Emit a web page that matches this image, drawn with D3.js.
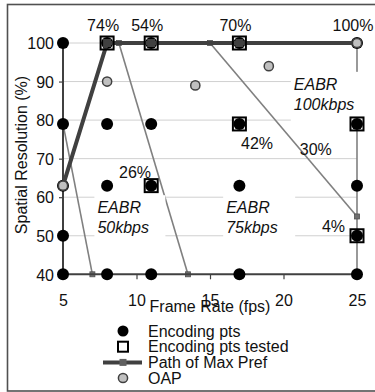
<!DOCTYPE html>
<html><head><meta charset="utf-8">
<script src="https://cdn.jsdelivr.net/npm/d3@7/dist/d3.min.js"></script>
<style>body{margin:0;background:#fff}svg{display:block;font-family:"Liberation Sans",Arial,sans-serif}</style>
</head><body><svg id="c" width="375" height="392"></svg>
<script>
// ---- data ----
const xTicks = [5, 10, 15, 20, 25];
const yTicks = [40, 50, 60, 70, 80, 90, 100];
const encodingPts = [
  [5,100],[5,79],[5,63],[5,50],[5,40],
  [8,100],[8,79],[8,63],[8,40],
  [11,100],[11,79],[11,63],[11,40],
  [17,100],[17,79],[17,63],[17,40],
  [25,100],[25,79],[25,63],[25,50],[25,40]
];
const testedPts = [[8,100],[11,100],[11,63],[17,100],[17,79],[25,79],[25,50]];
const maxPrefPath = [[5,63],[8,100],[11,100],[17,100],[25,100]];
const oapPts = [[5,63],[8,90],[14,89],[19,94],[25,100]];
const eabr50 = [[5,79],[7,40]];
const eabr75 = [[8.8,100],[13.5,40]];
const eabr100 = [[15,100],[25,55]];
const edgeLine = [[25,100],[25,40]];
const pctLabels = [
  {t:"74%", x:8, y:100, pos:"top"},
  {t:"54%", x:11, y:100, pos:"top"},
  {t:"70%", x:17, y:100, pos:"top"},
  {t:"100%", x:25, y:100, pos:"top"},
  {t:"26%", x:9.9, y:66.5},
  {t:"42%", x:18.2, y:73.9},
  {t:"30%", x:22.2, y:72.5},
  {t:"4%", x:23.4, y:52.5}
];
const eabrLabels = [
  {l1:"EABR", l2:"50kbps", x:7.34, y:60},
  {l1:"EABR", l2:"75kbps", x:16.1, y:60},
  {l1:"EABR", l2:"100kbps", x:20.7, y:92}
];
const legendItems = ["Encoding pts","Encoding pts tested","Path of Max Pref","OAP"];

// ---- drawing ----
const svg = d3.select("#c");
const dark = "#404040", gray = "#808080";
const x = d3.scaleLinear().domain([5,25]).range([63,357]);
const y = d3.scaleLinear().domain([40,100]).range([274.3,43]);

// outer border
svg.append("rect").attr("x",7.5).attr("y",4.5).attr("width",380).attr("height",386.5)
  .attr("fill","none").attr("stroke","#505050").attr("stroke-width",1.6);

// gridlines
svg.append("g").selectAll("line").data(yTicks.filter(v=>v>40)).join("line")
  .attr("x1",x(5)).attr("x2",x(25)).attr("y1",d=>y(d)).attr("y2",d=>y(d))
  .attr("stroke","#d0d0d0").attr("stroke-width",1);

// EABR lines
const line = d3.line().x(d=>x(d[0])).y(d=>y(d[1]));
[eabr50,eabr75,eabr100,edgeLine].forEach(l=>{
  svg.append("path").attr("d",line(l)).attr("fill","none").attr("stroke",gray).attr("stroke-width",1.6);
});
[eabr50,eabr75,eabr100].forEach(l=>{
  svg.append("g").selectAll("rect").data(l).join("rect")
    .attr("x",d=>x(d[0])-2.5).attr("y",d=>y(d[1])-2.5).attr("width",5).attr("height",5)
    .attr("fill","#707070").attr("stroke","#505050").attr("stroke-width",0.8);
});

// EABR label boxes
const boxW = [71, 72, 78];
eabrLabels.forEach((d,i)=>{
  const bx = x(d.x)-3, by = y(d.y);
  svg.append("rect").attr("x",bx).attr("y",by-2).attr("width",boxW[i]).attr("height",50).attr("fill","#fff");
  const tx = x(d.x);
  svg.append("text").attr("x",tx).attr("y",by+16).attr("font-size",16).attr("font-style","italic").attr("fill","#111").text(d.l1);
  svg.append("text").attr("x",tx).attr("y",by+36).attr("font-size",16).attr("font-style","italic").attr("fill","#111").text(d.l2);
});

// axes
const xAxis = svg.append("g").attr("transform",`translate(0,${y(40)})`)
  .call(d3.axisBottom(x).tickValues(xTicks).tickSize(5).tickFormat(d3.format("d")));
xAxis.select(".domain").attr("stroke",dark).attr("stroke-width",2).attr("d",`M${x(5)},0H${x(25)}`);
xAxis.selectAll(".tick line").attr("stroke",dark).attr("stroke-width",1.2);
xAxis.selectAll("text").attr("font-size",16).attr("fill","#111").attr("font-family","Liberation Sans, Arial, sans-serif").attr("dy",null).attr("y",31.5);

const yAxis = svg.append("g").attr("transform",`translate(${x(5)},0)`)
  .call(d3.axisLeft(y).tickValues(yTicks).tickSize(4).tickPadding(5));
yAxis.select(".domain").attr("stroke",dark).attr("stroke-width",2).attr("d",`M0,${y(100)}V${y(40)}`);
yAxis.selectAll(".tick line").attr("stroke",dark).attr("stroke-width",1.2);
yAxis.selectAll("text").attr("font-size",16).attr("fill","#111").attr("font-family","Liberation Sans, Arial, sans-serif").attr("dy","0.36em");

// axis titles
svg.append("text").attr("x",210).attr("y",312).attr("text-anchor","middle").attr("font-size",16).attr("fill","#111").text("Frame Rate (fps)");
svg.append("text").attr("transform","translate(27,155) rotate(-90)").attr("text-anchor","middle").attr("font-size",16).attr("fill","#111").text("Spatial Resolution (%)");

// encoding points
svg.append("g").selectAll("circle").data(encodingPts).join("circle")
  .attr("cx",d=>x(d[0])).attr("cy",d=>y(d[1])).attr("r",6).attr("fill","#000");

// path of max pref
svg.append("path").attr("d",line(maxPrefPath)).attr("fill","none").attr("stroke",dark).attr("stroke-width",4);
svg.append("g").selectAll("rect").data(maxPrefPath).join("rect")
  .attr("x",d=>x(d[0])-4).attr("y",d=>y(d[1])-4).attr("width",8).attr("height",8).attr("fill",dark);

// tested squares
svg.append("g").selectAll("rect").data(testedPts).join("rect")
  .attr("x",d=>x(d[0])-6.5).attr("y",d=>y(d[1])-6.5).attr("width",13).attr("height",13)
  .attr("fill","none").attr("stroke","#000").attr("stroke-width",2);

// OAP
svg.append("g").selectAll("circle").data(oapPts).join("circle")
  .attr("cx",d=>x(d[0])).attr("cy",d=>y(d[1])).attr("r",4.6)
  .attr("fill","#c0c0c0").attr("stroke",dark).attr("stroke-width",1.5);

// percent labels
svg.append("g").selectAll("text").data(pctLabels).join("text")
  .attr("x",d=>x(d.x)+(d.pos==="top"?-4:0)).attr("y",d=>d.pos==="top"?30.7:y(d.y)+5.7)
  .attr("text-anchor","middle").attr("font-size",16).attr("fill","#111").text(d=>d.t);

// legend
const lg = svg.append("g");
const ly = [331, 346.7, 362.4, 378];
const sx = 123;
lg.append("circle").attr("cx",sx).attr("cy",ly[0]).attr("r",5.5).attr("fill","#000");
lg.append("rect").attr("x",sx-5).attr("y",ly[1]-5).attr("width",10).attr("height",10).attr("fill","#fff").attr("stroke","#000").attr("stroke-width",2);
lg.append("line").attr("x1",103).attr("x2",142).attr("y1",ly[2]).attr("y2",ly[2]).attr("stroke",dark).attr("stroke-width",4);
lg.append("rect").attr("x",sx-3.5).attr("y",ly[2]-3.5).attr("width",7).attr("height",7).attr("fill","#606060");
lg.append("circle").attr("cx",sx).attr("cy",ly[3]).attr("r",4.6).attr("fill","#c0c0c0").attr("stroke",dark).attr("stroke-width",1.5);
lg.selectAll("text").data(legendItems).join("text")
  .attr("x",148).attr("y",(d,i)=>ly[i]+5.7).attr("font-size",16).attr("fill","#111").text(d=>d);
</script></body></html>
